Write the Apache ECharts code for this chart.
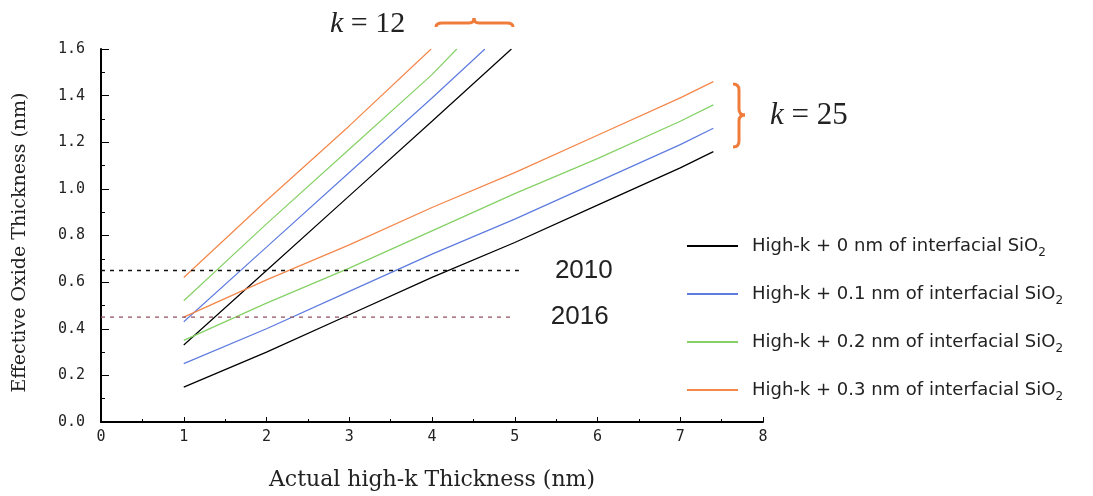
<!DOCTYPE html>
<html>
<head>
<meta charset="utf-8">
<script src="https://cdn.jsdelivr.net/npm/echarts@6/dist/echarts.min.js"></script>
<style>
  html, body { margin: 0; padding: 0; background: #fff; }
  #main { width: 1093px; height: 496px; }
</style>
</head>
<body>
<div id="main"></div>
<script>
// legend names, one per interfacial SiO2 thickness
const layerNames = [
  'High-k + 0 nm of interfacial SiO2',
  'High-k + 0.1 nm of interfacial SiO2',
  'High-k + 0.2 nm of interfacial SiO2',
  'High-k + 0.3 nm of interfacial SiO2'
]
const layerColors = ['#000000', '#5f7ce0', '#86d166', '#f4874a']

// k = 12 lines  [actual thickness, EOT]
const k12Black  = [[1, 0.33], [2, 0.65], [3, 0.97], [4, 1.29], [4.96, 1.6]]
const k12Blue   = [[1, 0.43], [2, 0.75], [3, 1.07], [4, 1.39], [4.64, 1.6]]
const k12Green  = [[1, 0.52], [2, 0.85], [3, 1.17], [4, 1.49], [4.3, 1.6]]
const k12Orange = [[1, 0.62], [2, 0.95], [3, 1.27], [3.99, 1.6]]

// k = 25 lines
const k25Black  = [[1, 0.15], [2, 0.30], [3, 0.46], [4, 0.62], [5, 0.77], [6, 0.93], [7, 1.09], [7.4, 1.16]]
const k25Blue   = [[1, 0.25], [2, 0.40], [3, 0.56], [4, 0.72], [5, 0.87], [6, 1.03], [7, 1.19], [7.4, 1.26]]
const k25Green  = [[1, 0.35], [2, 0.51], [3, 0.66], [4, 0.82], [5, 0.98], [6, 1.13], [7, 1.29], [7.4, 1.36]]
const k25Orange = [[1, 0.45], [2, 0.61], [3, 0.76], [4, 0.92], [5, 1.07], [6, 1.23], [7, 1.39], [7.4, 1.46]]

// roadmap targets (dashed)
const target2010 = [[0, 0.65], [5.05, 0.65]]
const target2016 = [[0, 0.45], [5.0, 0.45]]

const k12Sets = [k12Black, k12Blue, k12Green, k12Orange]
const k25Sets = [k25Black, k25Blue, k25Green, k25Orange]

const myChart = echarts.init(document.getElementById('main'))

const series = []
k12Sets.forEach((d, i) => {
  series.push({ name: layerNames[i], type: 'line', data: d, showSymbol: false, color: layerColors[i],
    lineStyle: { width: 1.2, color: layerColors[i] }, animation: false })
})
k25Sets.forEach((d, i) => {
  series.push({ name: layerNames[i], type: 'line', data: d, showSymbol: false, color: layerColors[i],
    lineStyle: { width: 1.3, color: layerColors[i] }, animation: false })
})
const yearLabel = (txt) => ({
  show: true, formatter: txt, distance: 36, color: '#222',
  fontFamily: 'Liberation Sans', fontSize: 26
})
series.push({ name: '2010', type: 'line', data: target2010, showSymbol: false,
  lineStyle: { width: 1.6, color: '#111', type: [4, 5] }, endLabel: yearLabel('2010'), animation: false })
series.push({ name: '2016', type: 'line', data: target2016, showSymbol: false,
  lineStyle: { width: 1.4, color: '#94505e', type: [4, 5] }, endLabel: yearLabel('2016'), animation: false })

const monoLabel = { fontFamily: 'DejaVu Sans Mono', fontSize: 15, color: '#222' }

// brace pieces: straight 'l' or quadratic 'q' segments
const braceStyle = { stroke: '#f07c3c', lineWidth: 3, fill: null }
function brace(parts) {
  return parts.map(p => p[0] === 'l'
    ? { type: 'line', shape: { x1: p[1], y1: p[2], x2: p[3], y2: p[4] }, style: braceStyle }
    : { type: 'bezierCurve', shape: { x1: p[1], y1: p[2], cpx1: p[3], cpy1: p[4], x2: p[5], y2: p[6] }, style: braceStyle })
}
const topBrace = brace([
  ['q', 436, 27, 436, 23, 442, 23], ['l', 442, 23, 469, 23],
  ['q', 469, 23, 474, 23, 474, 18], ['q', 474, 18, 474, 23, 479, 23],
  ['l', 479, 23, 507, 23], ['q', 507, 23, 513, 23, 513, 27]
])
const sideBrace = brace([
  ['q', 733, 84, 739, 84, 739, 90], ['l', 739, 90, 739, 109],
  ['q', 739, 109, 739, 115, 745, 115], ['q', 745, 115, 739, 115, 739, 121],
  ['l', 739, 121, 739, 141], ['q', 739, 141, 739, 147, 733, 147]
])

const option = {
  animation: false,
  grid: { left: 101, right: 330, top: 49, bottom: 72 },
  legend: {
    data: layerNames,
    orient: 'vertical',
    left: 682,
    top: 228,
    itemWidth: 51,
    itemHeight: 2,
    itemGap: 22,
    icon: 'rect',
    selectedMode: false,
    formatter: (n) => n.replace('SiO2', 'SiO{sub|2}'),
    textStyle: {
      fontFamily: 'DejaVu Sans', fontSize: 18, color: '#222', lineHeight: 26, padding: [0, 0, 0, 9],
      rich: { sub: { fontSize: 12, lineHeight: 26, verticalAlign: 'bottom', color: '#222' } }
    }
  },
  xAxis: {
    type: 'value', min: 0, max: 8, interval: 1,
    name: 'Actual high-k Thickness (nm)', nameLocation: 'middle', nameGap: 47,
    nameTextStyle: { fontFamily: 'DejaVu Serif', fontSize: 22, color: '#222' },
    axisLine: { lineStyle: { color: '#000', width: 2 } },
    axisTick: { inside: true, length: 5, lineStyle: { color: '#000' } },
    minorTick: { show: true, splitNumber: 2, length: 3, lineStyle: { color: '#000' } },
    axisLabel: Object.assign({ margin: 8 }, monoLabel),
    splitLine: { show: false }
  },
  yAxis: {
    type: 'value', min: 0, max: 1.6, interval: 0.2,
    name: 'Effective Oxide Thickness (nm)', nameLocation: 'middle', nameGap: 71,
    nameTextStyle: { fontFamily: 'DejaVu Serif', fontSize: 19, color: '#222', padding: [0, 0, 0, -14] },
    axisLine: { show: true, lineStyle: { color: '#000', width: 2 } },
    axisTick: { show: true, inside: true, length: 8, lineStyle: { color: '#000' } },
    minorTick: { show: true, splitNumber: 2, length: 4, lineStyle: { color: '#000' } },
    axisLabel: Object.assign({ margin: 16, formatter: (v) => v.toFixed(1) }, monoLabel),
    splitLine: { show: false }
  },
  graphic: [
    {
      type: 'text', x: 330, y: 9,
      style: {
        text: '{i|k} = 12', fill: '#222', fontFamily: 'Liberation Serif', fontSize: 30,
        rich: { i: { fontStyle: 'italic', fontFamily: 'Liberation Serif', fontSize: 30 } }
      }
    },
    {
      type: 'text', x: 770, y: 100,
      style: {
        text: '{i|k} = 25', fill: '#222', fontFamily: 'Liberation Serif', fontSize: 31,
        rich: { i: { fontStyle: 'italic', fontFamily: 'Liberation Serif', fontSize: 31 } }
      }
    }
  ].concat(topBrace, sideBrace),
  series: series
}

myChart.setOption(option)
</script>
</body>
</html>
